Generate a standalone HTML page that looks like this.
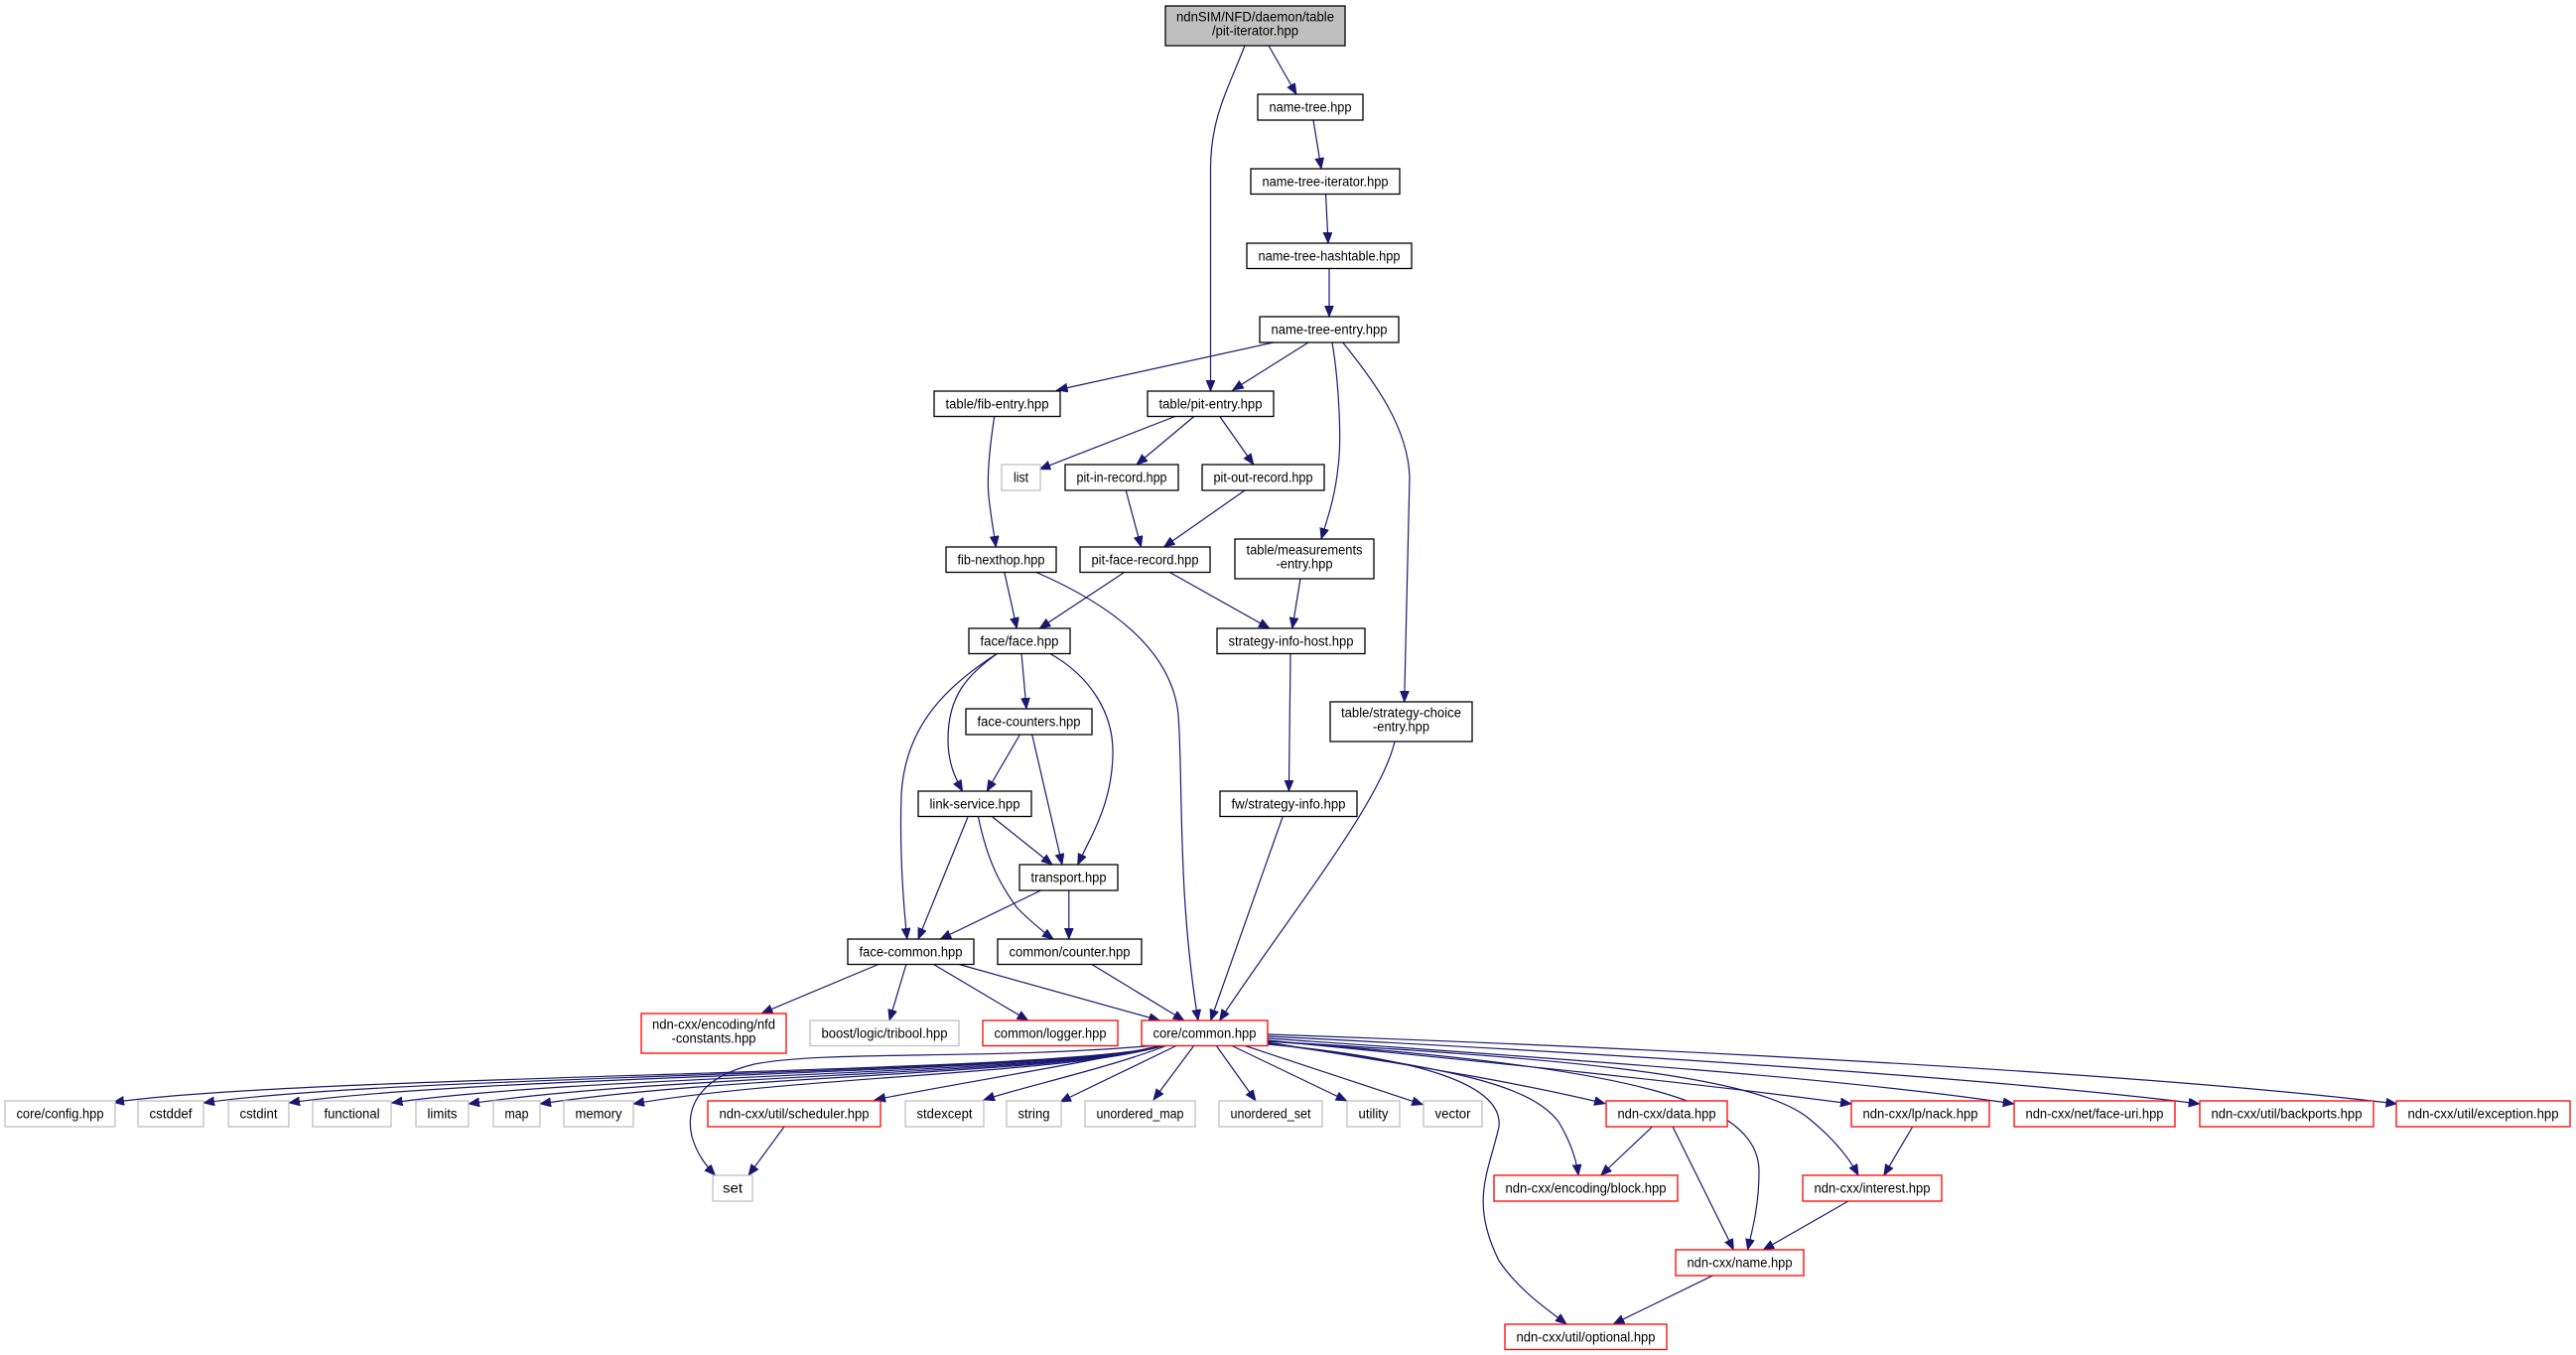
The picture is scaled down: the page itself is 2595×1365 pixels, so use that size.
<!DOCTYPE html>
<html><head><meta charset="utf-8"><style>
html,body{margin:0;padding:0;background:#fff;}
svg{display:block;}
text{font-family:"Liberation Sans",Arial,sans-serif;font-size:13.5px;fill:#000;text-anchor:middle;}
.n{fill:#fff;stroke:#000;stroke-width:1.3;}
.g{fill:#fff;stroke:#bfbfbf;stroke-width:1.3;}
.r{fill:#fff;stroke:#ff0000;stroke-width:1.3;}
.root{fill:#bfbfbf;stroke:#000;stroke-width:1.3;}
.e{fill:none;stroke:#191970;stroke-width:1.2;marker-end:url(#a);}
</style></head><body>
<svg width="2595" height="1365" viewBox="0 0 2595 1365" xmlns="http://www.w3.org/2000/svg">
<defs>
<marker id="a" markerUnits="userSpaceOnUse" markerWidth="12" markerHeight="10" refX="11" refY="4.5" orient="auto">
<path d="M0,0 L11,4.5 L0,9 z" fill="#191970" stroke="#191970" stroke-width="0.8"/>
</marker>
</defs>

<!-- edges -->
<g>
<path class="e" d="M1278,46 L1306,95"/>
<path class="e" d="M1254,46 C1236,92 1219.5,120 1219.5,170 L1219.5,394"/>
<path class="e" d="M1323,121 L1331,170"/>
<path class="e" d="M1335.5,195 L1338,245"/>
<path class="e" d="M1339,270 L1339,319"/>
<path class="e" d="M1282.7,345 L1064.6,393"/>
<path class="e" d="M1318,345 L1241.7,393"/>
<path class="e" d="M1342,345 C1348,380 1352,440 1348,470 C1345,500 1338,520 1331,543"/>
<path class="e" d="M1352.7,345 C1385,385 1418,430 1420,480 L1414.7,707"/>
<path class="e" d="M1001.8,419 C997,450 994,480 996,500 C998,520 1001,535 1003.3,551"/>
<path class="e" d="M1185,419 L1047.3,472.7"/>
<path class="e" d="M1203.5,419 L1145,468"/>
<path class="e" d="M1228.4,419 L1262.8,468"/>
<path class="e" d="M1134.2,494 L1149.5,551"/>
<path class="e" d="M1254,494 L1172.5,551"/>
<path class="e" d="M1310,583 L1301.8,633"/>
<path class="e" d="M1011.7,576 L1024.4,633"/>
<path class="e" d="M1042.7,576 C1110,605 1180,650 1187,720 C1192,790 1186,900 1207,1028"/>
<path class="e" d="M1133.4,576 L1047.3,633"/>
<path class="e" d="M1177.4,576 L1278.9,633"/>
<path class="e" d="M1029,658 L1034,714"/>
<path class="e" d="M1005,658 C975,680 955,700 955,745 C955,770 963,785 969.6,797"/>
<path class="e" d="M1005,658 C955,690 912,730 908,800 C906,860 910,910 913.8,946"/>
<path class="e" d="M1057,658 C1100,682 1122,720 1121,760 C1120,810 1100,840 1085.7,871"/>
<path class="e" d="M1027.4,740 L994.2,797"/>
<path class="e" d="M1039.7,740 L1070,871"/>
<path class="e" d="M975.4,822 L925,946"/>
<path class="e" d="M998.6,822 L1060,871"/>
<path class="e" d="M985.3,822 C995,870 1010,895 1025,915 C1040,930 1050,938 1061,946"/>
<path class="e" d="M1048.6,897 L947.3,946"/>
<path class="e" d="M1076.8,897 L1076.8,946"/>
<path class="e" d="M1300,658 L1298.4,797"/>
<path class="e" d="M1405,747 C1390,810 1300,920 1228.6,1028"/>
<path class="e" d="M1292.4,822 L1219.6,1028"/>
<path class="e" d="M886,971 L767.4,1020.7"/>
<path class="e" d="M913,971 L896,1028"/>
<path class="e" d="M939.7,971 L1035.7,1028"/>
<path class="e" d="M964.3,971 L1168.3,1028"/>
<path class="e" d="M1099,971 L1192.8,1028"/>

<!-- core/common left fan -->
<path class="e" d="M1173,1053 C1080,1082 314,1082 114,1110.5"/>
<path class="e" d="M1173,1053 C1080,1082 405,1082 205,1111"/>
<path class="e" d="M1173,1053 C1080,1082 491,1082 291,1111"/>
<path class="e" d="M1173,1053 C1080,1082 594,1082 394.5,1111"/>
<path class="e" d="M1173,1053 C1080,1082 672,1082 472,1112"/>
<path class="e" d="M1173,1053 C1080,1082 744,1082 544,1112"/>
<path class="e" d="M1173,1053 C1080,1082 800,1084 638,1112"/>
<path class="e" d="M1170,1053 C1100,1070 960,1092 881,1108"/>
<path class="e" d="M1176,1053 C1120,1075 1030,1095 991,1108"/>
<path class="e" d="M1186,1053 L1068,1110"/>
<path class="e" d="M1203,1053 L1162,1108"/>
<path class="e" d="M1225,1053 L1265,1109"/>
<path class="e" d="M1240,1053 L1356.7,1109"/>
<path class="e" d="M1252.7,1053 L1433.3,1112.7"/>
<path class="e" d="M1165,1053 C1000,1068 830,1058 760,1072 C705,1085 690,1115 697,1145 C702,1162 710,1173 720.5,1184"/>

<!-- core/common right fan -->
<path class="e" d="M1277,1050 C1400,1070 1520,1088 1617,1111.7"/>
<path class="e" d="M1277,1048 C1500,1070 1700,1090 1865,1112"/>
<path class="e" d="M1277,1046 C1550,1065 1850,1085 2028.7,1112"/>
<path class="e" d="M1277,1044 C1600,1060 2000,1085 2215.7,1112"/>
<path class="e" d="M1277,1042 C1650,1055 2150,1080 2414.5,1112"/>
<path class="e" d="M1277,1051 C1450,1075 1540,1090 1570,1130 C1582,1150 1588,1168 1590,1184"/>
<path class="e" d="M1277,1049 C1550,1065 1760,1080 1820,1125 C1845,1145 1862,1165 1872,1184"/>
<path class="e" d="M1277,1049 C1650,1075 1772,1110 1772,1180 C1772,1215 1765,1240 1760.5,1259"/>
<path class="e" d="M1277,1052 C1420,1065 1515,1090 1510,1135 C1500,1180 1480,1210 1510,1270 C1530,1300 1560,1320 1578,1333.7"/>

<path class="e" d="M1664.5,1135 L1612.7,1184"/>
<path class="e" d="M1685,1135 L1746.4,1259"/>
<path class="e" d="M1926.7,1135 L1897.8,1184"/>
<path class="e" d="M1862,1210 L1776.3,1259"/>
<path class="e" d="M1726,1284.7 L1625.4,1333.7"/>
<path class="e" d="M790,1135 L754,1184"/>
</g>

<!-- nodes -->
<g>
<rect class="root" x="1174" y="6" width="181" height="40"/>
<text x="1264.5" y="21.5" textLength="159" lengthAdjust="spacingAndGlyphs">ndnSIM/NFD/daemon/table</text>
<text x="1264.5" y="35.5" textLength="87" lengthAdjust="spacingAndGlyphs">/pit-iterator.hpp</text>

<rect class="n" x="1267" y="95" width="106" height="26"/>
<text x="1320" y="112.5" textLength="83" lengthAdjust="spacingAndGlyphs">name-tree.hpp</text>

<rect class="n" x="1260" y="170" width="150" height="25.5"/>
<text x="1335" y="187.5" textLength="127" lengthAdjust="spacingAndGlyphs">name-tree-iterator.hpp</text>

<rect class="n" x="1256" y="245" width="166" height="25.5"/>
<text x="1339" y="262.5" textLength="143" lengthAdjust="spacingAndGlyphs">name-tree-hashtable.hpp</text>

<rect class="n" x="1269" y="319" width="140" height="26"/>
<text x="1339" y="336.5" textLength="117" lengthAdjust="spacingAndGlyphs">name-tree-entry.hpp</text>

<rect class="n" x="941" y="394" width="127" height="25.5"/>
<text x="1004.5" y="411.5" textLength="104" lengthAdjust="spacingAndGlyphs">table/fib-entry.hpp</text>

<rect class="n" x="1156" y="394" width="127" height="25.5"/>
<text x="1219.5" y="411.5" textLength="104" lengthAdjust="spacingAndGlyphs">table/pit-entry.hpp</text>

<rect class="g" x="1009" y="468" width="39" height="26"/>
<text x="1028.5" y="485.5" textLength="15" lengthAdjust="spacingAndGlyphs">list</text>

<rect class="n" x="1073" y="468" width="114" height="26"/>
<text x="1130" y="485.5" textLength="91" lengthAdjust="spacingAndGlyphs">pit-in-record.hpp</text>

<rect class="n" x="1211" y="468" width="123" height="26"/>
<text x="1272.5" y="485.5" textLength="100" lengthAdjust="spacingAndGlyphs">pit-out-record.hpp</text>

<rect class="n" x="953" y="551" width="111" height="25.5"/>
<text x="1008.5" y="568.5" textLength="88" lengthAdjust="spacingAndGlyphs">fib-nexthop.hpp</text>

<rect class="n" x="1088" y="551" width="131" height="25.5"/>
<text x="1153.5" y="568.5" textLength="108" lengthAdjust="spacingAndGlyphs">pit-face-record.hpp</text>

<rect class="n" x="1244" y="543" width="140" height="40"/>
<text x="1314" y="558.5" textLength="117" lengthAdjust="spacingAndGlyphs">table/measurements</text>
<text x="1314" y="572.5" textLength="57" lengthAdjust="spacingAndGlyphs">-entry.hpp</text>

<rect class="n" x="976" y="633" width="102" height="25.5"/>
<text x="1027" y="650.5" textLength="79" lengthAdjust="spacingAndGlyphs">face/face.hpp</text>

<rect class="n" x="1226" y="633" width="149" height="25.5"/>
<text x="1300.5" y="650.5" textLength="126" lengthAdjust="spacingAndGlyphs">strategy-info-host.hpp</text>

<rect class="n" x="973" y="714" width="127" height="26"/>
<text x="1036.5" y="731.5" textLength="104" lengthAdjust="spacingAndGlyphs">face-counters.hpp</text>

<rect class="n" x="1340" y="707" width="143" height="40"/>
<text x="1411.5" y="722.5" textLength="121" lengthAdjust="spacingAndGlyphs">table/strategy-choice</text>
<text x="1411.5" y="736.5" textLength="57" lengthAdjust="spacingAndGlyphs">-entry.hpp</text>

<rect class="n" x="925" y="797" width="114" height="25.5"/>
<text x="982" y="814.5" textLength="91" lengthAdjust="spacingAndGlyphs">link-service.hpp</text>

<rect class="n" x="1229" y="797" width="138" height="25.5"/>
<text x="1298" y="814.5" textLength="115" lengthAdjust="spacingAndGlyphs">fw/strategy-info.hpp</text>

<rect class="n" x="1027" y="871" width="99" height="26"/>
<text x="1076.5" y="888.5" textLength="76" lengthAdjust="spacingAndGlyphs">transport.hpp</text>

<rect class="n" x="854" y="946" width="127" height="25.5"/>
<text x="917.5" y="963.5" textLength="104" lengthAdjust="spacingAndGlyphs">face-common.hpp</text>

<rect class="n" x="1005" y="946" width="145" height="25.5"/>
<text x="1077.5" y="963.5" textLength="122" lengthAdjust="spacingAndGlyphs">common/counter.hpp</text>

<rect class="r" x="646" y="1021" width="146" height="40"/>
<text x="719" y="1036.5" textLength="124" lengthAdjust="spacingAndGlyphs">ndn-cxx/encoding/nfd</text>
<text x="719" y="1050.5" textLength="85" lengthAdjust="spacingAndGlyphs">-constants.hpp</text>

<rect class="g" x="816" y="1028" width="150" height="25.5"/>
<text x="891" y="1045.5" textLength="127" lengthAdjust="spacingAndGlyphs">boost/logic/tribool.hpp</text>

<rect class="r" x="990" y="1028" width="136" height="25.5"/>
<text x="1058" y="1045.5" textLength="113" lengthAdjust="spacingAndGlyphs">common/logger.hpp</text>

<rect class="r" x="1150" y="1028" width="127" height="25.5"/>
<text x="1213.5" y="1045.5" textLength="104" lengthAdjust="spacingAndGlyphs">core/common.hpp</text>

<!-- row 14 -->
<rect class="g" x="5" y="1109" width="111" height="26"/>
<text x="60.5" y="1126.5" textLength="88" lengthAdjust="spacingAndGlyphs">core/config.hpp</text>
<rect class="g" x="139" y="1109" width="66" height="26"/>
<text x="172" y="1126.5" textLength="43" lengthAdjust="spacingAndGlyphs">cstddef</text>
<rect class="g" x="230" y="1109" width="61" height="26"/>
<text x="260.5" y="1126.5" textLength="38" lengthAdjust="spacingAndGlyphs">cstdint</text>
<rect class="g" x="315" y="1109" width="79" height="26"/>
<text x="354.5" y="1126.5" textLength="56" lengthAdjust="spacingAndGlyphs">functional</text>
<rect class="g" x="419" y="1109" width="53" height="26"/>
<text x="445.5" y="1126.5" textLength="30" lengthAdjust="spacingAndGlyphs">limits</text>
<rect class="g" x="497" y="1109" width="47" height="26"/>
<text x="520.5" y="1126.5" textLength="24" lengthAdjust="spacingAndGlyphs">map</text>
<rect class="g" x="568" y="1109" width="70" height="26"/>
<text x="603" y="1126.5" textLength="47" lengthAdjust="spacingAndGlyphs">memory</text>
<rect class="r" x="713" y="1109" width="174" height="26"/>
<text x="800" y="1126.5" textLength="151" lengthAdjust="spacingAndGlyphs">ndn-cxx/util/scheduler.hpp</text>
<rect class="g" x="912" y="1109" width="79" height="26"/>
<text x="951.5" y="1126.5" textLength="56" lengthAdjust="spacingAndGlyphs">stdexcept</text>
<rect class="g" x="1014" y="1109" width="55" height="26"/>
<text x="1041.5" y="1126.5" textLength="32" lengthAdjust="spacingAndGlyphs">string</text>
<rect class="g" x="1093" y="1109" width="111" height="26"/>
<text x="1148.5" y="1126.5" textLength="88" lengthAdjust="spacingAndGlyphs">unordered_map</text>
<rect class="g" x="1228" y="1109" width="104" height="26"/>
<text x="1280" y="1126.5" textLength="81" lengthAdjust="spacingAndGlyphs">unordered_set</text>
<rect class="g" x="1357" y="1109" width="53" height="26"/>
<text x="1383.5" y="1126.5" textLength="30" lengthAdjust="spacingAndGlyphs">utility</text>
<rect class="g" x="1434" y="1109" width="59" height="26"/>
<text x="1463.5" y="1126.5" textLength="36" lengthAdjust="spacingAndGlyphs">vector</text>
<rect class="r" x="1618" y="1109" width="122" height="26"/>
<text x="1679" y="1126.5" textLength="99" lengthAdjust="spacingAndGlyphs">ndn-cxx/data.hpp</text>
<rect class="r" x="1865" y="1109" width="139" height="26"/>
<text x="1934.5" y="1126.5" textLength="116" lengthAdjust="spacingAndGlyphs">ndn-cxx/lp/nack.hpp</text>
<rect class="r" x="2029" y="1109" width="162" height="26"/>
<text x="2110" y="1126.5" textLength="139" lengthAdjust="spacingAndGlyphs">ndn-cxx/net/face-uri.hpp</text>
<rect class="r" x="2216" y="1109" width="175" height="26"/>
<text x="2303.5" y="1126.5" textLength="152" lengthAdjust="spacingAndGlyphs">ndn-cxx/util/backports.hpp</text>
<rect class="r" x="2414" y="1109" width="175" height="26"/>
<text x="2501.5" y="1126.5" textLength="152" lengthAdjust="spacingAndGlyphs">ndn-cxx/util/exception.hpp</text>

<!-- row 15 -->
<rect class="g" x="718" y="1184" width="40" height="26"/>
<text x="738" y="1201.5" textLength="20" lengthAdjust="spacingAndGlyphs">set</text>
<rect class="r" x="1505" y="1184" width="185" height="26"/>
<text x="1597.5" y="1201.5" textLength="162" lengthAdjust="spacingAndGlyphs">ndn-cxx/encoding/block.hpp</text>
<rect class="r" x="1816" y="1184" width="140" height="26"/>
<text x="1886" y="1201.5" textLength="117" lengthAdjust="spacingAndGlyphs">ndn-cxx/interest.hpp</text>

<rect class="r" x="1688" y="1259" width="129" height="26"/>
<text x="1752.5" y="1276.5" textLength="106" lengthAdjust="spacingAndGlyphs">ndn-cxx/name.hpp</text>

<rect class="r" x="1516" y="1334" width="163" height="25.5"/>
<text x="1597.5" y="1351.5" textLength="140" lengthAdjust="spacingAndGlyphs">ndn-cxx/util/optional.hpp</text>
</g>
</svg>
</body></html>
